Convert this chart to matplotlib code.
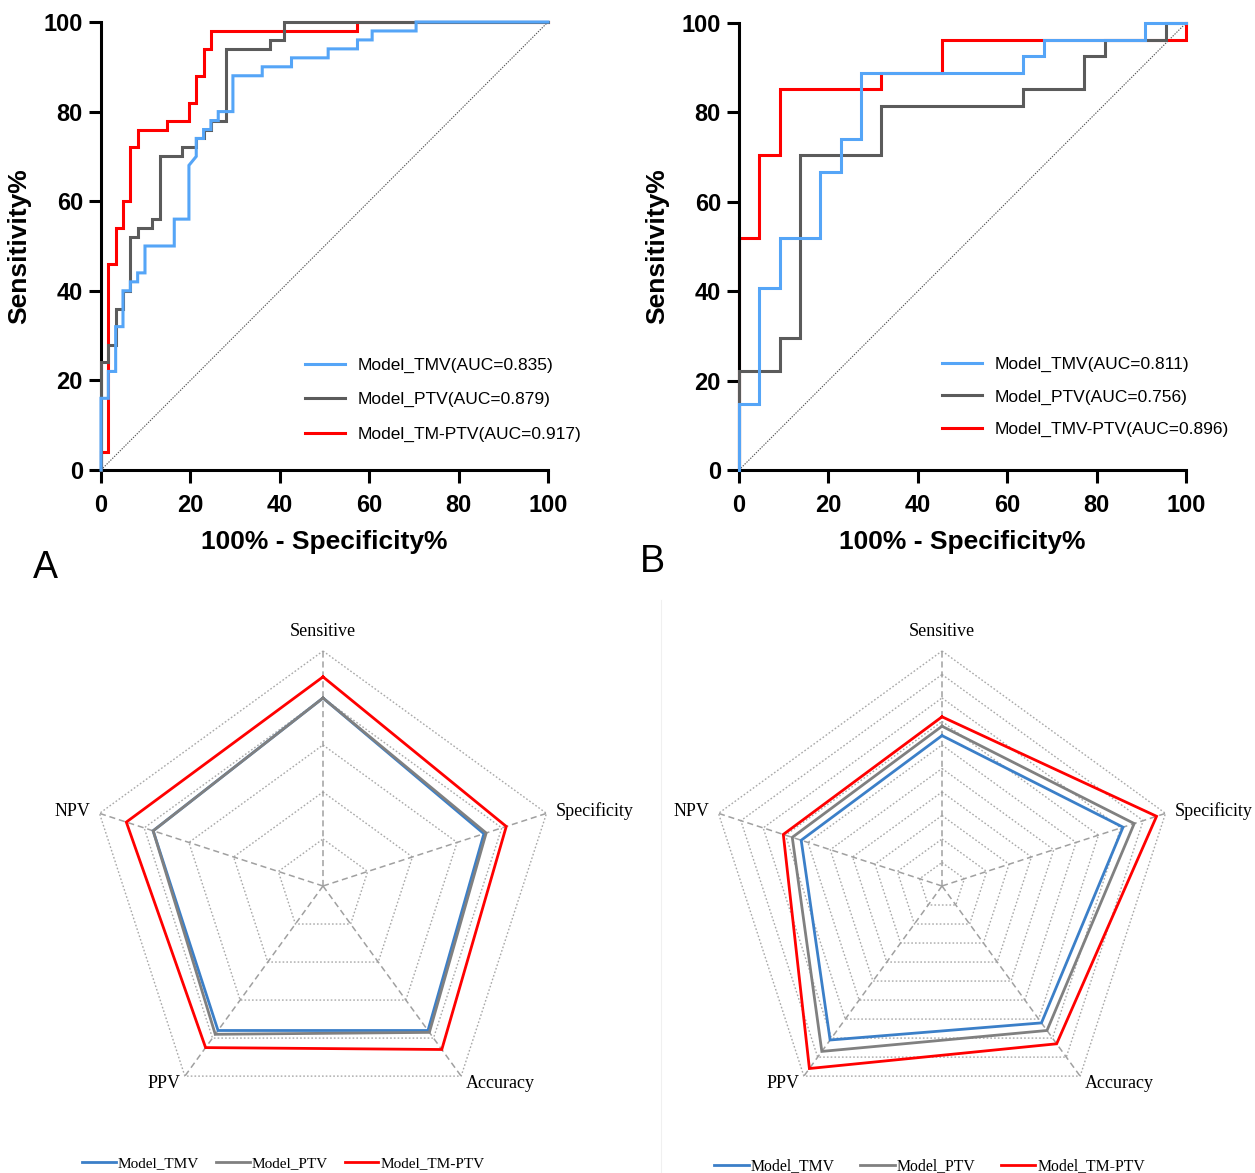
import numpy as np
import matplotlib
matplotlib.use("Agg")
import matplotlib.pyplot as plt
from matplotlib.lines import Line2D

W, H = 1255, 1173

# ---- ROC data (corners of the step curves, % values) ----
tmv_a_fpr = [0, 0, 1.64, 1.64, 3.28, 3.28, 4.92, 4.92, 6.56, 6.56, 8.20, 8.20, 9.84, 9.84,
             16.39, 16.39, 19.67, 19.67, 21.31, 21.31, 22.95, 22.95, 24.59, 24.59, 26.23, 26.23,
             29.51, 29.51, 36.07, 36.07, 42.62, 42.62, 50.82, 50.82, 57.38, 57.38, 60.66, 60.66,
             70.49, 70.49, 100]
tmv_a_tpr = [0, 16, 16, 22, 22, 32, 32, 40, 40, 42, 42, 44, 44, 50,
             50, 56, 56, 68, 70, 74, 74, 76, 76, 78, 78, 80,
             80, 88, 88, 90, 90, 92, 92, 94, 94, 96, 96, 98,
             98, 100, 100]
ptv_a_fpr = [0, 0, 1.64, 1.64, 3.28, 3.28, 4.92, 4.92, 6.56, 6.56, 8.20, 8.20, 11.48, 11.48,
             13.11, 13.11, 18.03, 18.03, 21.31, 21.31, 22.95, 22.95, 24.59, 24.59, 27.87, 27.87,
             37.70, 37.70, 40.98, 40.98, 100]
ptv_a_tpr = [0, 24, 24, 28, 28, 36, 36, 40, 40, 52, 52, 54, 54, 56,
             56, 70, 70, 72, 72, 74, 74, 76, 76, 78, 78, 94,
             94, 96, 96, 100, 100]
tmptv_a_fpr = [0, 0, 1.64, 1.64, 3.28, 3.28, 4.92, 4.92, 6.56, 6.56, 8.20, 8.20, 14.75, 14.75,
               19.67, 19.67, 21.31, 21.31, 22.95, 22.95, 24.59, 24.59, 57.38, 57.38, 100]
tmptv_a_tpr = [0, 4, 4, 46, 46, 54, 54, 60, 60, 72, 72, 76, 76, 78,
               78, 82, 82, 88, 88, 94, 94, 98, 98, 100, 100]

tmv_b_fpr = [0, 0, 4.55, 4.55, 9.09, 9.09, 18.18, 18.18, 22.73, 22.73, 27.27, 27.27,
             63.64, 63.64, 68.18, 68.18, 90.91, 90.91, 100]
tmv_b_tpr = [0, 14.8, 14.8, 40.7, 40.7, 51.9, 51.9, 66.7, 66.7, 74.1, 74.1, 88.9,
             88.9, 92.6, 92.6, 96.3, 96.3, 100, 100]
ptv_b_fpr = [0, 0, 9.09, 9.09, 13.64, 13.64, 31.82, 31.82, 63.64, 63.64, 77.27, 77.27,
             81.82, 81.82, 95.45, 95.45, 100]
ptv_b_tpr = [0, 22.2, 22.2, 29.6, 29.6, 70.4, 70.4, 81.5, 81.5, 85.2, 85.2, 92.6,
             92.6, 96.3, 96.3, 100, 100]
tmvptv_b_fpr = [0, 0, 4.55, 4.55, 9.09, 9.09, 31.82, 31.82, 45.45, 45.45, 100, 100]
tmvptv_b_tpr = [0, 51.9, 51.9, 70.4, 70.4, 85.2, 85.2, 88.9, 88.9, 96.3, 96.3, 100]

labels_a = ["Model_TMV(AUC=0.835)", "Model_PTV(AUC=0.879)", "Model_TM-PTV(AUC=0.917)"]
labels_b = ["Model_TMV(AUC=0.811)", "Model_PTV(AUC=0.756)", "Model_TMV-PTV(AUC=0.896)"]
roc_ticks = [0, 20, 40, 60, 80, 100]

# ---- radar data ----
radar_axes = ["Sensitive", "Specificity", "Accuracy", "PPV", "NPV"]
radar_series = ["Model_TMV", "Model_PTV", "Model_TM-PTV"]
tmv_a_radar = [0.80, 0.72, 0.76, 0.76, 0.76]
ptv_a_radar = [0.80, 0.73, 0.77, 0.78, 0.76]
tmptv_a_radar = [0.89, 0.82, 0.86, 0.85, 0.88]
tmv_b_radar = [0.64, 0.81, 0.72, 0.81, 0.63]
ptv_b_radar = [0.68, 0.86, 0.76, 0.87, 0.67]
tmvptv_b_radar = [0.72, 0.96, 0.83, 0.96, 0.71]

roc_colors = ["#55a5f7", "#5b5b5b", "#ff0000"]
radar_colors = ["#3b7fc8", "#808080", "#ff0000"]

sans = ["Liberation Sans", "DejaVu Sans"]
serif = ["Liberation Serif", "DejaVu Serif"]

fig = plt.figure(figsize=(W / 100, H / 100), dpi=100)


def roc_panel(rect, curves, labels, leg_anchor, leg_space):
    ax = fig.add_axes(rect)
    ax.plot([0, 100], [0, 100], ls=(0, (1.2, 1.2)), color="#555555", lw=0.8, zorder=1)
    # first series drawn on top, like the original
    for i, ((fx, ty), lab) in enumerate(zip(curves, labels)):
        ax.plot(fx, ty, color=roc_colors[i], lw=2.2, label=lab,
                clip_on=False, zorder=5 - i, solid_joinstyle="miter")
    ax.set_xlim(0, 100)
    ax.set_ylim(0, 100)
    ax.set_xticks(roc_ticks)
    ax.set_yticks(roc_ticks)
    for s in ["top", "right"]:
        ax.spines[s].set_visible(False)
    for s in ["left", "bottom"]:
        ax.spines[s].set_linewidth(2.2)
        ax.spines[s].set_zorder(3)
    ax.tick_params(length=9, width=2.2, labelsize=17)
    ax.tick_params(axis="x", pad=8)
    ax.tick_params(axis="y", pad=4)
    for t in ax.get_xticklabels() + ax.get_yticklabels():
        t.set_fontweight("bold")
        t.set_family(sans)
    ax.set_xlabel("100% - Specificity%", fontsize=19, fontweight="bold", family=sans, labelpad=10)
    ax.set_ylabel("Sensitivity%", fontsize=19, fontweight="bold", family=sans, labelpad=9)
    ax.legend(loc="upper left", bbox_to_anchor=leg_anchor, frameon=False,
              prop={"family": sans, "size": 12.5}, handlelength=2.3, handletextpad=0.75,
              labelspacing=leg_space, borderpad=0, borderaxespad=0)
    return ax


roc_panel([101 / W, 1 - 470 / H, 447 / W, 448 / H],
          [(tmv_a_fpr, tmv_a_tpr), (ptv_a_fpr, ptv_a_tpr), (tmptv_a_fpr, tmptv_a_tpr)],
          labels_a, (0.456, 0.251), 1.11)
roc_panel([739 / W, 1 - 470 / H, 447 / W, 447 / H],
          [(tmv_b_fpr, tmv_b_tpr), (ptv_b_fpr, ptv_b_tpr), (tmvptv_b_fpr, tmvptv_b_tpr)],
          labels_b, (0.454, 0.253), 0.98)

fig.text(45 / W, 1 - 568 / H, "A", fontsize=27, family=sans, ha="center", va="center")
fig.text(652 / W, 1 - 562 / H, "B", fontsize=27, family=sans, ha="center", va="center")


def radar_panel(cx, cy, R, series, n_rings):
    xl, yt, yb = 1.32, 1.25, 1.22
    ax = fig.add_axes([(cx - xl * R) / W, 1 - (cy + yb * R) / H,
                       2 * xl * R / W, (yt + yb) * R / H])
    ax.set_xlim(-xl, xl)
    ax.set_ylim(-yb, yt)
    ax.axis("off")
    n = len(radar_axes)
    ang = np.pi / 2 - 2 * np.pi * np.arange(n) / n
    ux, uy = np.cos(ang), np.sin(ang)
    for k in range(1, n_rings + 1):
        r = k / n_rings
        ax.plot(np.append(ux, ux[0]) * r, np.append(uy, uy[0]) * r,
                ls=(0, (1.2, 1.5)), color="#a8a8a8", lw=1.0, zorder=1)
    for i in range(n):
        ax.plot([0, ux[i]], [0, uy[i]], ls=(0, (4, 2.5)), color="#a0a0a0", lw=1.1, zorder=1)
    for i, vals in enumerate(series):
        v = np.array(vals)
        ax.plot(np.append(ux * v, ux[0] * v[0]), np.append(uy * v, uy[0] * v[0]),
                color=radar_colors[i], lw=2.0, zorder=3 + i, solid_joinstyle="miter")
    fs = 13
    ax.text(0, 1.085, radar_axes[0], ha="center", va="center", fontsize=fs, family=serif)
    ax.text(ux[1] + 0.04, uy[1] + 0.01, radar_axes[1], ha="left", va="center", fontsize=fs, family=serif)
    ax.text(ux[2] + 0.02, uy[2] - 0.03, radar_axes[2], ha="left", va="center", fontsize=fs, family=serif)
    ax.text(ux[3] - 0.02, uy[3] - 0.03, radar_axes[3], ha="right", va="center", fontsize=fs, family=serif)
    ax.text(ux[4] - 0.04, uy[4] + 0.01, radar_axes[4], ha="right", va="center", fontsize=fs, family=serif)
    return ax


radar_panel(323, 886, 235, [tmv_a_radar, ptv_a_radar, tmptv_a_radar], 5)
radar_panel(942, 886, 235, [tmv_b_radar, ptv_b_radar, tmvptv_b_radar], 10)

# faint border of the right radar image
fig.add_artist(Line2D([661 / W, 661 / W], [0, 1 - 600 / H], color="#f0f0f0", lw=0.8))

handles = [Line2D([], [], color=c, lw=2.0) for c in radar_colors]
fig.legend(handles, radar_series, loc="center left", bbox_to_anchor=(82 / W, 1 - 1163 / H),
           ncol=3, frameon=False, prop={"family": serif, "size": 11}, handlelength=2.2,
           handletextpad=0.15, columnspacing=1.1, borderpad=0, borderaxespad=0)
fig.legend(handles, radar_series, loc="center left", bbox_to_anchor=(714 / W, 1 - 1166 / H),
           ncol=3, frameon=False, prop={"family": serif, "size": 11.3}, handlelength=2.2,
           handletextpad=0.15, columnspacing=1.6, borderpad=0, borderaxespad=0)

fig.savefig("out.png", dpi=100)
